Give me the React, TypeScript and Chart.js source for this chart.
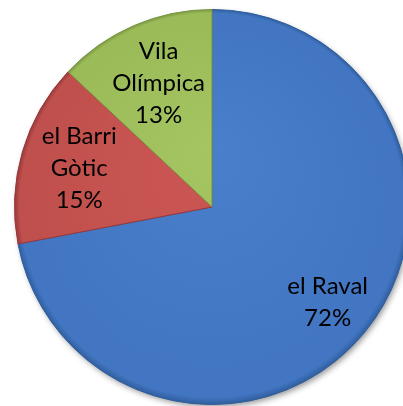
import React, { useEffect, useRef } from "react";
import { Chart, registerables } from "chart.js";

Chart.register(...registerables);

const CATEGORIES = ["el Raval", "el Barri Gòtic", "Vila Olímpica"];
const LABEL_LINES = [["el Raval"], ["el Barri", "Gòtic"], ["Vila", "Olímpica"]];
const VALUES = [72, 15, 13];
const PERCENT_LABELS = ["72%", "15%", "13%"];

const BASE_COLORS = ["#4276c2", "#c0504d", "#9bbb59"];
const LIGHT_COLORS = ["#4a7fcb", "#cc5754", "#a4c562"];
const DARK_COLORS = ["#2f5d9c", "#97383a", "#789540"];
const LABEL_RADIUS = [0.76, 0.7, 0.68];

const labelPlugin = {
  id: "sliceLabels",
  afterDatasetsDraw(chart: any) {
    const ctx = chart.ctx;
    const meta = chart.getDatasetMeta(0);
    ctx.save();
    ctx.fillStyle = "#000";
    ctx.font = "24px Lato";
    ctx.textAlign = "center";
    ctx.textBaseline = "middle";
    meta.data.forEach((arc: any, i: number) => {
      const p = arc.getProps(["x", "y", "startAngle", "endAngle", "outerRadius"], true);
      const mid = (p.startAngle + p.endAngle) / 2;
      const r = p.outerRadius * LABEL_RADIUS[i];
      const cx = p.x + Math.cos(mid) * r;
      const cy = p.y + Math.sin(mid) * r;
      const lines = [...LABEL_LINES[i], PERCENT_LABELS[i]];
      const lh = 32;
      const top = cy - ((lines.length - 1) * lh) / 2;
      lines.forEach((t, k) => ctx.fillText(t, cx, top + k * lh));
    });
    ctx.restore();
  },
};

const shadowPlugin = {
  id: "pieShadow",
  beforeDatasetsDraw(chart: any) {
    const meta = chart.getDatasetMeta(0);
    const a = meta.data[0];
    if (!a) return;
    const p = a.getProps(["x", "y", "outerRadius"], true);
    const ctx = chart.ctx;
    ctx.save();
    ctx.shadowColor = "rgba(0,0,0,0.45)";
    ctx.shadowBlur = 6;
    ctx.shadowOffsetX = 2;
    ctx.shadowOffsetY = 3;
    ctx.fillStyle = "#ffffff";
    ctx.beginPath();
    ctx.arc(p.x, p.y, p.outerRadius - 1, 0, Math.PI * 2);
    ctx.fill();
    ctx.restore();
  },
};

export default function App() {
  const ref = useRef<HTMLCanvasElement | null>(null);
  useEffect(() => {
    if (!ref.current) return;
    const chart = new Chart(ref.current, {
      type: "pie",
      data: {
        labels: CATEGORIES,
        datasets: [
          {
            data: VALUES,
            backgroundColor: (c: any) => {
              const chartObj = c.chart;
              const area = chartObj.chartArea;
              if (!area) return BASE_COLORS[c.dataIndex];
              const cx = (area.left + area.right) / 2;
              const cy = (area.top + area.bottom) / 2;
              const R = Math.min(area.right - area.left, area.bottom - area.top) / 2;
              const g = chartObj.ctx.createRadialGradient(cx, cy - R * 0.3, 0, cx, cy, R);
              const i = c.dataIndex;
              g.addColorStop(0, LIGHT_COLORS[i]);
              g.addColorStop(0.9, BASE_COLORS[i]);
              g.addColorStop(0.97, BASE_COLORS[i]);
              g.addColorStop(1, DARK_COLORS[i]);
              return g;
            },
            borderColor: DARK_COLORS,
            borderWidth: 1,
          },
        ],
      },
      options: {
        animation: false,
        responsive: false,
        layout: { padding: { left: 10, right: 10, top: 9, bottom: 11 } },
        plugins: {
          legend: { display: false },
          tooltip: { enabled: false },
        },
      },
      plugins: [shadowPlugin, labelPlugin],
    });
    return () => chart.destroy();
  }, []);
  return (
    <div
      style={{
        position: "fixed",
        left: 0,
        top: 0,
        width: 403,
        height: 406,
        overflow: "hidden",
        background: "#fff",
      }}
    >
      <canvas
        ref={ref}
        width={424}
        height={416}
        style={{ position: "absolute", left: 0, top: 0, width: 424, height: 416 }}
      />
    </div>
  );
}
